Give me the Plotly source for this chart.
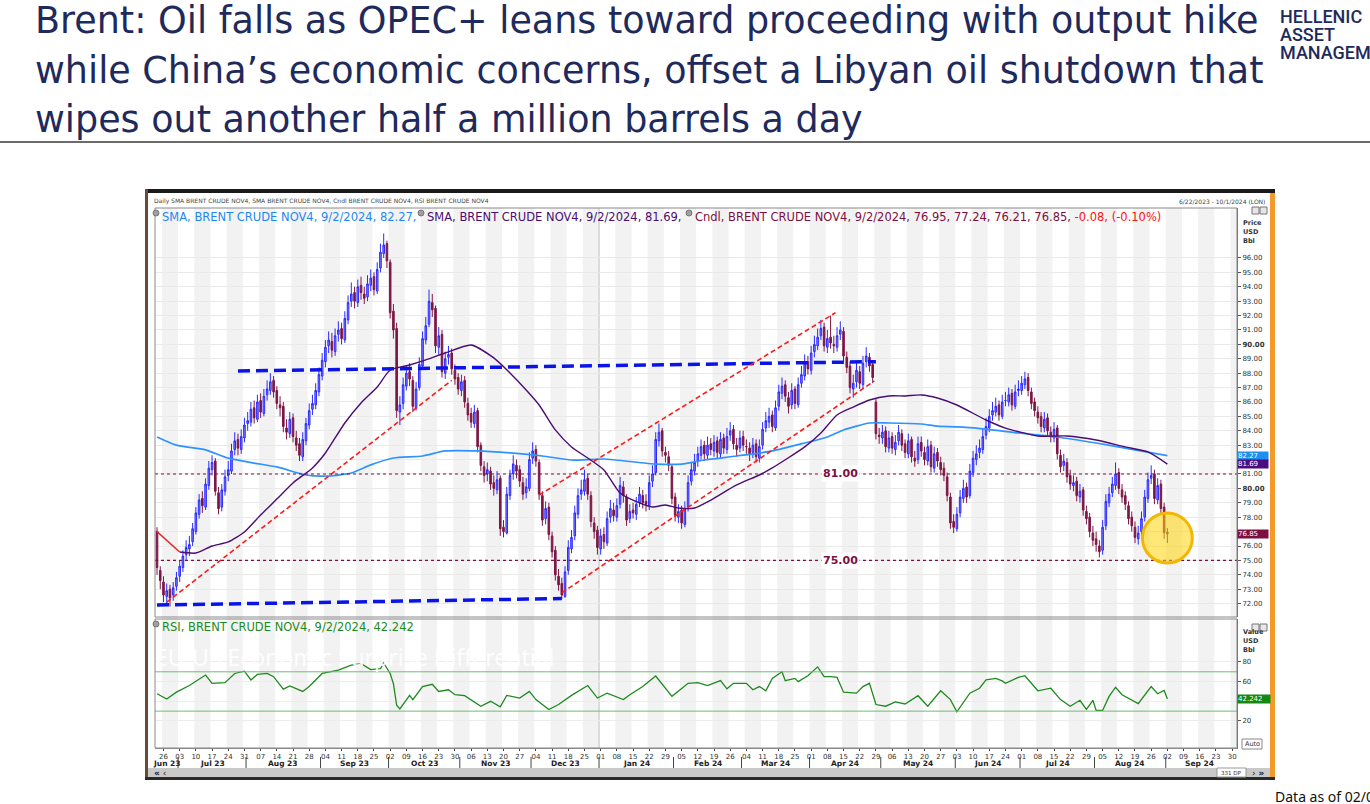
import plotly.graph_objects as go
import pandas as pd

W, H = 1370, 804


def px(x):
    return x / W


def py(y):
    return 1 - y / H


# ---------------- data ----------------
# daily OHLC, 22 Jun 2023 .. 2 Sep 2024 (business days)
open_ = [
    77.0, 74.3,
    73.5, 72.5, 73.0, 72.6, 73.2,
    73.9, 74.5, 75.4, 75.8, 76.3,
    77.0, 78.2, 79.3, 78.7, 80.2,
    81.3, 81.9, 79.7, 78.7, 79.8,
    80.9, 81.2, 82.7, 83.4, 82.7,
    83.5, 84.5, 84.6, 85.6, 84.8,
    86.1, 85.2, 86.5, 86.8, 87.5,
    86.8, 85.8, 85.7, 84.2, 83.8,
    84.9, 83.5, 83.1, 82.2, 83.3,
    84.4, 85.5, 85.8, 86.7, 87.8,
    88.8, 89.9, 90.2, 89.5, 90.7,
    91.1, 90.3, 91.7, 93.0, 93.6,
    92.9, 94.1, 93.5, 93.3, 94.1,
    94.7, 93.7, 95.3, 96.3, 97.0,
    95.7, 92.3, 91.1, 85.3, 85.9,
    87.1, 88.1, 87.5, 85.6, 87.0,
    88.5, 90.3, 91.4, 92.9, 92.5,
    89.8, 90.7, 88.0, 89.1, 89.4,
    88.2, 87.7, 86.8, 87.5, 85.9,
    85.2, 84.5, 85.4, 83.0, 81.5,
    81.0, 81.2, 80.4, 79.9, 80.7,
    77.3, 76.9, 79.5, 81.0, 81.6,
    81.3, 80.4, 79.7, 80.0, 82.1,
    82.7, 81.8, 79.5, 77.9, 78.7,
    76.7, 75.7, 73.9, 73.4, 72.5,
    74.3, 75.8, 76.7, 78.2, 79.6,
    79.8, 80.7, 79.5, 77.6, 77.1,
    75.8, 76.8, 76.2, 78.0, 78.5,
    78.0, 78.9, 80.1, 79.4, 77.9,
    78.5, 78.2, 79.0, 79.5, 79.1,
    78.8, 80.5, 81.1, 83.3, 84.0,
    82.5, 82.2, 81.5, 79.4, 78.0,
    78.5, 77.5, 78.7, 80.5, 81.2,
    81.9, 82.3, 83.0, 82.3, 83.1,
    82.6, 83.3, 82.4, 83.5, 82.7,
    83.7, 84.1, 83.0, 82.8, 83.6,
    82.9, 82.8, 82.5, 83.1, 82.1,
    83.0, 84.2, 84.6, 85.1, 84.2,
    85.7, 86.6, 87.2, 86.3, 85.8,
    86.9, 85.8, 87.3, 87.8, 88.8,
    88.2, 89.5, 89.9, 90.6, 91.2,
    89.8, 90.5, 90.0, 89.8, 90.7,
    90.9, 89.1, 88.5, 86.9, 87.4,
    88.1, 87.2, 88.8, 89.1, 88.6,
    86.0, 83.7, 83.5, 84.0, 82.8,
    83.6, 82.7, 83.3, 83.8, 83.1,
    82.4, 83.4, 82.1, 82.0, 83.2,
    82.5, 81.9, 83.0, 81.4, 82.5,
    81.8, 81.4, 80.8, 79.4, 77.7,
    77.2, 78.3, 79.3, 80.1, 79.5,
    81.1, 82.0, 82.5, 82.7, 83.7,
    84.2, 85.1, 85.3, 85.8, 85.0,
    86.1, 86.0, 86.6, 85.7, 86.8,
    86.8, 87.2, 87.7, 86.7, 86.0,
    85.3, 85.0, 84.2, 84.9, 83.9,
    83.5, 84.2, 82.3, 81.6, 81.8,
    80.9, 80.2, 80.5, 79.4, 79.9,
    78.4, 78.0, 76.9, 76.5, 76.0,
    75.7, 77.4, 79.0, 79.7, 80.2,
    81.1, 79.9, 79.5, 78.8, 78.0,
    77.3, 76.5, 77.0, 78.0, 79.3,
    80.7, 81.0, 79.2, 80.3, 78.7,
    76.95,
]
high_ = [
    77.3, 74.6,
    73.9, 73.4, 73.3, 73.5, 74.2,
    75.0, 75.7, 76.4, 76.7, 77.6,
    78.7, 79.6, 79.8, 80.7, 81.9,
    82.3, 82.1, 80.1, 80.3, 81.3,
    81.9, 83.1, 83.9, 83.8, 84.1,
    84.9, 85.3, 86.0, 86.1, 86.5,
    86.6, 86.9, 87.5, 88.0, 87.8,
    87.1, 86.4, 86.0, 84.8, 85.3,
    85.2, 84.0, 83.5, 83.9, 84.9,
    85.9, 86.5, 87.3, 88.4, 89.4,
    90.3, 90.9, 90.8, 91.1, 91.6,
    91.5, 92.3, 93.4, 94.3, 94.0,
    94.5, 94.7, 94.0, 94.8, 95.2,
    95.0, 95.7, 97.0, 97.7, 97.2,
    95.9, 92.8, 91.5, 86.4, 87.7,
    88.5, 88.7, 87.8, 87.4, 89.1,
    90.9, 91.9, 93.8, 93.5, 92.7,
    91.2, 91.0, 89.5, 89.9, 89.7,
    88.6, 88.0, 87.9, 87.8, 86.3,
    85.6, 85.8, 85.6, 83.2, 81.9,
    81.8, 81.5, 80.9, 81.2, 80.9,
    77.8, 80.1, 81.3, 82.3, 82.0,
    81.6, 80.8, 80.7, 82.5, 83.2,
    83.0, 82.0, 79.8, 79.1, 79.0,
    77.0, 76.0, 74.4, 73.8, 74.6,
    76.4, 77.1, 78.8, 80.0, 80.6,
    81.3, 81.0, 79.8, 78.0, 77.4,
    77.2, 77.3, 78.4, 79.2, 79.0,
    79.3, 80.8, 80.5, 79.6, 78.9,
    79.0, 79.4, 80.1, 79.9, 79.6,
    80.9, 81.6, 83.9, 84.5, 84.2,
    82.9, 82.6, 81.7, 79.7, 78.9,
    78.8, 79.1, 80.9, 81.8, 82.4,
    82.9, 83.4, 83.3, 83.6, 83.5,
    83.7, 83.6, 83.9, 83.8, 84.2,
    84.6, 84.4, 83.5, 84.0, 84.0,
    83.4, 83.2, 83.5, 83.4, 83.4,
    84.6, 85.3, 85.6, 85.4, 86.1,
    87.2, 87.7, 87.5, 86.7, 87.3,
    87.1, 87.7, 88.5, 89.3, 89.2,
    89.9, 90.6, 91.1, 91.7, 91.5,
    91.0, 92.0, 90.6, 91.2, 91.6,
    91.2, 89.5, 88.8, 87.9, 88.7,
    88.5, 89.2, 89.8, 89.4, 88.9,
    86.2, 84.2, 84.4, 84.3, 84.0,
    83.9, 83.7, 84.4, 84.1, 83.4,
    83.8, 83.6, 82.6, 83.6, 83.6,
    82.9, 83.4, 83.3, 82.9, 82.8,
    82.2, 81.8, 81.1, 79.7, 78.2,
    78.7, 79.9, 80.6, 80.4, 81.7,
    82.6, 83.0, 83.4, 84.1, 84.9,
    85.5, 86.0, 86.3, 86.1, 86.5,
    86.7, 87.0, 86.9, 87.2, 87.5,
    87.8, 88.1, 88.0, 87.0, 86.3,
    85.7, 85.3, 85.3, 85.2, 84.3,
    84.6, 84.4, 82.7, 82.4, 82.1,
    81.3, 80.9, 80.8, 80.3, 80.1,
    78.8, 78.3, 77.4, 77.0, 76.4,
    77.8, 79.6, 80.1, 80.8, 81.8,
    81.4, 80.3, 79.8, 79.1, 78.4,
    77.7, 77.4, 78.4, 79.9, 81.1,
    81.6, 81.3, 80.7, 80.6, 79.0,
    77.24,
]
low_ = [
    74.0, 73.0,
    72.1, 71.9, 71.8, 72.2, 72.9,
    73.5, 74.2, 75.0, 75.3, 76.0,
    76.8, 77.9, 78.3, 78.5, 79.9,
    80.9, 79.5, 78.2, 78.4, 79.5,
    80.5, 81.0, 82.3, 82.3, 82.4,
    83.2, 84.0, 84.3, 84.5, 84.6,
    84.9, 85.0, 86.1, 86.5, 86.3,
    85.5, 85.0, 83.9, 83.4, 83.5,
    83.2, 82.6, 81.9, 81.9, 83.0,
    84.1, 85.1, 85.5, 86.4, 87.5,
    88.4, 89.4, 89.1, 89.2, 90.2,
    90.0, 90.1, 91.4, 92.6, 92.5,
    92.6, 93.1, 92.8, 93.0, 93.7,
    93.4, 93.5, 95.0, 96.0, 95.3,
    91.8, 90.4, 84.9, 84.4, 85.5,
    86.8, 87.1, 85.3, 85.4, 86.8,
    88.3, 90.0, 91.2, 91.9, 89.4,
    89.3, 87.7, 87.6, 88.6, 87.9,
    87.2, 86.5, 86.4, 85.6, 84.7,
    84.2, 84.2, 82.5, 81.2, 80.4,
    80.5, 79.9, 79.5, 79.6, 76.7,
    76.6, 76.8, 79.2, 80.6, 80.7,
    80.1, 79.2, 79.3, 79.8, 81.7,
    81.5, 79.2, 77.4, 77.5, 76.4,
    75.2, 73.6, 72.9, 72.3, 72.4,
    74.0, 75.5, 76.4, 77.9, 79.2,
    79.5, 79.2, 77.3, 76.5, 75.4,
    75.4, 75.8, 76.0, 77.6, 77.7,
    77.7, 78.6, 79.0, 77.4, 77.6,
    77.9, 77.8, 78.7, 78.6, 78.4,
    78.5, 80.1, 80.9, 82.9, 82.2,
    81.8, 81.2, 78.9, 77.7, 77.6,
    77.2, 77.3, 78.4, 80.2, 80.9,
    81.5, 82.0, 81.9, 82.0, 82.3,
    82.2, 82.1, 82.1, 82.4, 82.4,
    83.3, 82.7, 82.2, 82.5, 82.6,
    82.4, 81.9, 82.1, 81.8, 81.8,
    82.7, 83.9, 84.2, 83.9, 84.0,
    85.4, 86.2, 86.0, 85.2, 85.5,
    85.5, 85.6, 87.0, 87.5, 87.9,
    87.9, 89.1, 89.6, 90.3, 89.5,
    89.4, 89.7, 89.4, 89.5, 90.3,
    88.8, 88.0, 86.6, 86.3, 87.0,
    86.9, 86.9, 88.4, 88.1, 87.3,
    83.4, 83.1, 83.1, 82.5, 82.5,
    82.4, 82.3, 83.0, 82.6, 82.1,
    82.1, 81.8, 81.5, 81.7, 82.2,
    81.6, 81.6, 81.1, 81.1, 81.5,
    80.9, 80.5, 79.1, 77.2, 76.9,
    77.0, 78.0, 79.0, 79.0, 79.3,
    80.8, 81.6, 82.1, 82.4, 83.4,
    83.9, 84.7, 85.0, 84.7, 84.8,
    85.7, 85.7, 85.4, 85.5, 86.4,
    86.5, 86.9, 86.4, 85.5, 85.0,
    84.5, 83.9, 83.9, 83.6, 83.2,
    83.2, 82.0, 81.1, 81.2, 80.4,
    79.9, 79.8, 79.1, 79.0, 78.1,
    77.5, 76.6, 76.0, 75.6, 75.2,
    75.4, 77.1, 78.7, 79.4, 79.9,
    79.6, 79.0, 78.5, 77.5, 77.0,
    76.2, 76.1, 76.7, 77.7, 79.0,
    80.3, 78.9, 78.9, 78.2, 76.5,
    76.21,
]
close_ = [
    74.5, 73.6,
    72.6, 72.9, 72.4, 73.1, 73.8,
    74.6, 75.3, 75.9, 76.1, 77.2,
    78.3, 79.2, 78.8, 80.3, 81.4,
    81.8, 79.8, 78.6, 79.9, 80.8,
    81.3, 82.6, 83.3, 82.8, 83.6,
    84.4, 84.7, 85.5, 84.9, 86.0,
    85.3, 86.4, 86.9, 87.4, 86.7,
    85.9, 85.6, 84.3, 83.9, 84.8,
    83.6, 83.0, 82.3, 83.4, 84.5,
    85.4, 85.9, 86.8, 87.9, 88.9,
    89.8, 90.3, 89.6, 90.6, 91.0,
    90.4, 91.8, 92.9, 93.5, 93.0,
    94.0, 93.6, 93.2, 94.2, 94.6,
    93.8, 95.2, 96.4, 96.9, 95.8,
    92.2, 91.0, 85.4, 85.8, 87.2,
    88.0, 87.6, 85.7, 86.9, 88.6,
    90.4, 91.3, 93.0, 92.4, 89.9,
    90.6, 88.1, 89.0, 89.3, 88.3,
    87.6, 86.9, 87.4, 86.0, 85.1,
    84.6, 85.3, 82.9, 81.6, 80.9,
    81.3, 80.3, 80.0, 80.6, 77.2,
    77.0, 79.6, 80.9, 81.7, 81.2,
    80.5, 79.6, 80.1, 82.0, 82.6,
    81.9, 79.6, 77.8, 78.6, 76.8,
    75.6, 74.0, 73.3, 72.6, 74.2,
    75.9, 76.6, 78.3, 79.5, 79.9,
    80.6, 79.6, 77.7, 77.0, 75.9,
    76.7, 76.3, 77.9, 78.6, 78.1,
    78.8, 80.2, 79.5, 77.8, 78.4,
    78.3, 78.9, 79.6, 79.0, 78.9,
    80.4, 81.0, 83.4, 83.9, 82.6,
    82.3, 81.6, 79.3, 78.1, 78.4,
    77.6, 78.6, 80.4, 81.3, 81.8,
    82.4, 82.9, 82.4, 83.0, 82.7,
    83.2, 82.5, 83.4, 82.8, 83.6,
    84.0, 83.1, 82.7, 83.5, 83.0,
    82.9, 82.4, 83.0, 82.2, 82.9,
    84.1, 84.7, 85.0, 84.3, 85.6,
    86.7, 87.1, 86.4, 85.7, 86.8,
    85.9, 87.2, 87.9, 88.7, 88.3,
    89.4, 90.0, 90.5, 91.1, 89.9,
    90.4, 90.1, 89.9, 90.6, 91.0,
    89.2, 88.4, 87.0, 87.3, 88.2,
    87.3, 88.7, 89.2, 88.5, 87.7,
    83.8, 83.6, 83.9, 82.9, 83.5,
    82.8, 83.2, 83.9, 83.0, 82.5,
    83.3, 82.2, 81.9, 83.1, 82.6,
    82.0, 82.9, 81.5, 82.4, 81.9,
    81.3, 80.9, 79.5, 77.6, 77.3,
    78.2, 79.4, 80.0, 79.4, 81.2,
    82.1, 82.4, 82.8, 83.6, 84.3,
    85.0, 85.4, 85.7, 85.1, 86.0,
    86.1, 86.5, 85.8, 86.7, 86.9,
    87.3, 87.6, 86.8, 85.9, 85.4,
    84.9, 84.3, 84.8, 84.0, 83.6,
    84.1, 82.4, 81.5, 81.9, 80.8,
    80.3, 80.4, 79.5, 79.8, 78.5,
    77.9, 77.0, 76.4, 76.1, 75.6,
    77.3, 79.1, 79.6, 80.3, 81.0,
    80.0, 79.4, 78.9, 77.9, 77.4,
    76.6, 76.9, 77.9, 79.4, 80.6,
    80.9, 79.3, 80.2, 78.6, 76.93,
    76.85,
]

# moving averages: (trading-day index, value) vertices
sma_long_idx = [0, 6, 15, 22, 30, 37, 46, 53, 60, 66, 73, 82, 89, 99, 109, 119, 128, 138,
                154, 162, 169, 179, 190, 200, 207, 212, 220, 226, 236, 241, 253, 266, 278,
                290, 302, 312]
sma_long_val = [83.57, 83.0, 82.67, 82.1, 81.76, 81.49, 80.93, 80.86, 81.07, 81.63, 82.11,
                82.25, 82.6, 82.6, 82.46, 82.25, 81.97, 82.04, 81.69, 81.69, 81.97, 82.25,
                82.6, 83.15, 83.57, 84.06, 84.54, 84.54, 84.47, 84.33, 84.19, 83.85, 83.57,
                83.15, 82.67, 82.27]
sma_short_idx = [7, 12, 17, 22, 27, 32, 37, 42, 48, 52, 58, 63, 68, 72, 78, 83, 89, 97, 104,
                 109, 114, 118, 123, 128, 133, 138, 143, 149, 153, 157, 161, 166, 171, 179,
                 186, 190, 200, 205, 210, 215, 220, 226, 231, 236, 241, 247, 256, 262, 272,
                 281, 290, 299, 306, 312]
sma_short_val = [75.58, 75.51, 76.0, 76.28, 76.97, 78.15, 79.26, 80.38, 81.42, 82.46, 84.54,
                 85.93, 87.04, 88.22, 88.57, 88.92, 89.4, 89.96, 89.06, 88.01, 86.83, 85.79,
                 84.06, 82.88, 82.11, 81.28, 79.68, 78.99, 78.71, 78.85, 78.64, 78.64, 79.19,
                 80.24, 80.93, 81.42, 82.88, 83.85, 85.1, 85.65, 86.14, 86.42, 86.42, 86.49,
                 86.28, 85.79, 84.75, 84.19, 83.64, 83.64, 83.36, 82.88, 82.53, 81.69]
start_seg_idx = [0, 7]
start_seg_val = [77.0, 75.58]

# RSI vertices
rsi_idx = [0, 3, 6, 10, 15, 17, 21, 24, 27, 29, 31, 34, 36, 39, 41, 45, 47, 51, 56, 60, 63,
           66, 69, 70, 72, 73, 74, 75, 78, 79, 82, 85, 87, 90, 92, 95, 100, 103, 106, 108,
           112, 115, 117, 121, 124, 128, 133, 136, 139, 144, 146, 150, 154, 159, 164, 167,
           170, 174, 176, 178, 182, 184, 186, 188, 190, 193, 194, 197, 198, 201, 204, 206,
           208, 210, 212, 216, 218, 220, 222, 225, 228, 231, 235, 238, 242, 245, 247, 251,
           254, 256, 259, 261, 262, 266, 268, 272, 276, 279, 282, 285, 287, 289, 290, 292,
           294, 296, 298, 301, 303, 307, 309, 311, 312]
rsi_val = [47.7, 42.3, 49.3, 56, 66.7, 58.3, 59, 68.3, 70.7, 61.7, 67.3, 68.3, 65, 52.3,
           55.7, 50, 55, 68.3, 71.7, 76.7, 78.3, 72.3, 73.3, 79, 68.3, 58, 36, 32.3, 46,
           41.7, 55, 57.3, 50, 51.7, 46.7, 45.7, 35, 40, 34.3, 46, 43.3, 50, 41.7, 31.7,
           36.7, 46, 56, 43.3, 48.3, 41.7, 46.7, 55, 65.7, 45, 58.3, 59, 56, 61, 52.7,
           58.3, 58.3, 51.7, 55, 50.7, 63.3, 70, 61, 63.3, 60, 66, 75, 65, 65, 64.3, 49.3,
           48.3, 55, 58.3, 36.7, 35, 39.3, 37.3, 45.7, 35, 50.7, 41.7, 29.3, 48.3, 53.3,
           61.7, 63.3, 60.7, 58.3, 64.3, 66, 50.7, 53.3, 41.7, 35, 41, 31.7, 41, 30.7,
           30.7, 45, 54.3, 46.7, 41.7, 37.7, 55, 47.7, 51, 42.242]

# analyst trend lines: (start idx, start price, end idx, end price)
blue_lines = [(25, 88.15, 222, 88.8), (0, 71.9, 125, 72.35)]
red_lines = [(3, 72.1, 91, 87.5), (118, 79.54, 209.5, 92.2), (125, 72.74, 221.5, 87.46)]
levels = [81.0, 75.0]
rsi_bands = [70, 30]
price_ticks = list(range(72, 97))
hidden_price_ticks = [77, 82]     # covered by value boxes in the reference
rsi_ticks = [20, 40, 60, 80]
hidden_rsi_ticks = [40]

title_lines = [
    "Brent: Oil falls as OPEC+ leans toward proceeding with output hike",
    "while China’s economic concerns, offset a Libyan oil shutdown that",
    "wipes out another half a million barrels a day",
]

# ---------------- checks / derived ----------------
N = len(close_)
assert len(open_) == N and len(high_) == N and len(low_) == N, (len(open_), len(high_), len(low_), N)
assert len(sma_long_idx) == len(sma_long_val)
assert len(sma_short_idx) == len(sma_short_val)
assert len(rsi_idx) == len(rsi_val), (len(rsi_idx), len(rsi_val))

calendar = pd.bdate_range("2023-06-22", "2024-10-01")
x_idx = list(range(N))

X_RANGE = [-0.62, 333.5]
P_RANGE = [71.07, 99.47]
R_RANGE = [-7.5, 123.7]
PLOT_L, PLOT_R = 155, 1237
P_TOP, P_BOT = 208, 617
R_TOP, R_BOT = 619, 748

FONT = "DejaVu Sans"
MAROON = "#7b1040"
BLUE_SMA = "#2f93ff"
PURPLE = "#4b0c73"
GREEN = "#1e8a1e"

fig = go.Figure()

fig.add_trace(go.Candlestick(
    x=x_idx, open=open_, high=high_, low=low_, close=close_,
    increasing=dict(line=dict(color="#2b2bff", width=1), fillcolor="#8080ff"),
    decreasing=dict(line=dict(color="#7d1745", width=1), fillcolor="#7d1745"),
    whiskerwidth=0, showlegend=False, hoverinfo="skip", xaxis="x", yaxis="y"))

fig.add_trace(go.Scatter(x=sma_long_idx, y=sma_long_val, mode="lines",
                         line=dict(color=BLUE_SMA, width=1.7, shape="spline", smoothing=0.6),
                         showlegend=False, hoverinfo="skip", xaxis="x", yaxis="y"))
fig.add_trace(go.Scatter(x=sma_short_idx, y=sma_short_val, mode="lines",
                         line=dict(color=PURPLE, width=1.4, shape="spline", smoothing=0.6),
                         showlegend=False, hoverinfo="skip", xaxis="x", yaxis="y"))
fig.add_trace(go.Scatter(x=start_seg_idx, y=start_seg_val, mode="lines",
                         line=dict(color="#e8262b", width=1.5),
                         showlegend=False, hoverinfo="skip", xaxis="x", yaxis="y"))

for (a, b, c, d) in blue_lines:
    fig.add_trace(go.Scatter(x=[a, c], y=[b, d], mode="lines",
                             line=dict(color="#0a14e6", width=3.5, dash="12px,6px"),
                             showlegend=False, hoverinfo="skip", xaxis="x", yaxis="y"))
for (a, b, c, d) in red_lines:
    fig.add_trace(go.Scatter(x=[a, c], y=[b, d], mode="lines",
                             line=dict(color="#ff1a1a", width=1.6, dash="5px,3px"),
                             showlegend=False, hoverinfo="skip", xaxis="x", yaxis="y"))

fig.add_trace(go.Scatter(x=rsi_idx, y=rsi_val, mode="lines",
                         line=dict(color=GREEN, width=1.3),
                         showlegend=False, hoverinfo="skip", xaxis="x2", yaxis="y2"))

# ---------------- calendar helpers ----------------
mondays = [i for i, d in enumerate(calendar) if d.weekday() == 0]
tick_idx = [i for i in mondays if X_RANGE[0] <= i <= X_RANGE[1]]
tick_txt = [calendar[i].strftime("%d") for i in tick_idx]

shapes = []
annotations = []

# alternating week stripes
for k, m in enumerate(mondays):
    if k % 2 == 0:
        x0 = m - 0.5
        x1 = min(m + 4.5, X_RANGE[1])
        if x0 < X_RANGE[1]:
            shapes.append(dict(type="rect", xref="x", yref="paper", x0=x0, x1=x1,
                               y0=py(R_BOT), y1=py(P_TOP), fillcolor="#f2f2f2",
                               line=dict(width=0), layer="below"))
# year separator
jan_idx = next(i for i, d in enumerate(calendar) if d.year == 2024)
shapes.append(dict(type="line", xref="x", yref="paper", x0=jan_idx - 0.5, x1=jan_idx - 0.5,
                   y0=py(R_BOT), y1=py(P_TOP), line=dict(color="#d2d2d2", width=1.5),
                   layer="below"))

# month labels and separators
months = {}
for i, d in enumerate(calendar):
    months.setdefault((d.year, d.month), []).append(i)
for (yy, mm), idxs in months.items():
    lo = max(idxs[0] - 0.5, X_RANGE[0])
    hi = min(idxs[-1] + 0.5, X_RANGE[1])
    if hi <= lo + 2:
        continue
    annotations.append(dict(x=(lo + hi) / 2, y=py(763), xref="x2", yref="paper",
                            text="<b>" + calendar[idxs[0]].strftime("%b %y") + "</b>",
                            showarrow=False, font=dict(size=7.5, color="#222", family=FONT),
                            xanchor="center", yanchor="middle"))
    if idxs[0] > 0 and idxs[0] - 0.5 < X_RANGE[1]:
        shapes.append(dict(type="line", xref="x2", yref="paper", x0=idxs[0] - 0.5,
                           x1=idxs[0] - 0.5, y0=py(757), y1=py(768),
                           line=dict(color="#444", width=1)))

# reference levels
for lv in levels:
    shapes.append(dict(type="line", xref="x domain", yref="y", x0=0, x1=1, y0=lv, y1=lv,
                       line=dict(color=MAROON, width=1.2, dash="dot")))
    annotations.append(dict(x=211, y=lv, xref="x", yref="y", text="<b>%.2f</b>" % lv,
                            showarrow=False, font=dict(size=11, color=MAROON, family=FONT),
                            bgcolor="white", xanchor="center", yanchor="middle"))
for b in rsi_bands:
    shapes.append(dict(type="line", xref="x2 domain", yref="y2", x0=0, x1=1, y0=b, y1=b,
                       line=dict(color="#6cbf6c", width=1)))

# highlight circle on last candle
cx, cy = N - 1, 76.56
shapes.append(dict(type="circle", xref="x", yref="y", x0=cx - 7.7, x1=cx + 7.7,
                   y0=cy - 1.74, y1=cy + 1.74, fillcolor="rgba(255,214,10,0.55)",
                   line=dict(color="#f2b705", width=3)))

# panel borders
for (t, b) in [(P_TOP, P_BOT), (R_TOP, R_BOT)]:
    shapes.append(dict(type="rect", xref="paper", yref="paper", x0=px(PLOT_L), x1=px(PLOT_R),
                       y0=py(b), y1=py(t), line=dict(color="#8a8a8a", width=1)))

# outer frame of the screenshot
frame = [
    (145, 189, 1275, 193, "#1a1a1a"),
    (145, 189, 148, 780, "#6b4a35"),
    (1270, 193, 1275, 780, "#f39a2b"),
    (145, 777, 1275, 780, "#2a2a2a"),
    (148, 768, 1270, 777, "#c9c9c9"),
]
for (x0, y0, x1, y1, c) in frame:
    shapes.append(dict(type="rect", xref="paper", yref="paper", x0=px(x0), x1=px(x1),
                       y0=py(y1), y1=py(y0), fillcolor=c, line=dict(width=0)))
# title rule
shapes.append(dict(type="line", xref="paper", yref="paper", x0=0, x1=1, y0=py(142), y1=py(142),
                   line=dict(color="#3a3a3a", width=1.5)))
# small window icons
for yy in [210.5, 627.5]:
    for xx in [1252, 1260]:
        shapes.append(dict(type="rect", xref="paper", yref="paper", x0=px(xx), x1=px(xx + 7),
                           y0=py(yy + 3.5), y1=py(yy - 3.5), fillcolor="#e6e6e6",
                           line=dict(color="#777", width=1)))
# legend bullet icons
for xx, yy in [(156, 213), (421, 213), (689, 213), (156, 624)]:
    shapes.append(dict(type="circle", xref="paper", yref="paper", x0=px(xx - 3), x1=px(xx + 3),
                       y0=py(yy + 3), y1=py(yy - 3), fillcolor="#a0a0a0",
                       line=dict(color="#666", width=0.8)))
# 331 DP box and Auto box
shapes.append(dict(type="rect", xref="paper", yref="paper", x0=px(1217), x1=px(1246),
                   y0=py(777), y1=py(768), fillcolor="white", line=dict(color="#999", width=1)))
shapes.append(dict(type="rect", xref="paper", yref="paper", x0=px(1242), x1=px(1262),
                   y0=py(749), y1=py(739), fillcolor="white", line=dict(color="#888", width=1)))


def ann(x, y, text, size, color, xanchor="left", family=FONT, **kw):
    return dict(x=px(x), y=py(y), xref="paper", yref="paper", text=text, showarrow=False,
                xanchor=xanchor, yanchor="middle", font=dict(size=size, color=color, family=family),
                **kw)


# title
for k, line in enumerate(title_lines):
    annotations.append(ann(33, 20 + 50 * k, line, 36.5, "#1f2a5c", family="DejaVu Sans"))
# logo
for k, word in enumerate(["HELLENIC", "ASSET", "MANAGEMENT"]):
    annotations.append(dict(x=px(1278), y=py(16.5 + 18 * k), xref="paper", yref="paper",
                            text=word, showarrow=False, xanchor="left", yanchor="middle",
                            font=dict(size=18, color="#1f2a5c", family="Roboto", weight=500)))
annotations.append(ann(1273, 796, "Data as of 02/09/2024", 14, "#111", family="Noto Sans"))

# chart header
annotations.append(ann(152, 201, "Daily SMA BRENT CRUDE NOV4, SMA BRENT CRUDE NOV4, Cndl BRENT CRUDE NOV4, RSI BRENT CRUDE NOV4",
                       6, "#444"))
annotations.append(ann(1267, 201, "6/22/2023 - 10/1/2024 (LON)", 6, "#444", xanchor="right"))

# legend texts (values taken from the data)
date_txt = "9/2/2024"
chg = close_[-1] - close_[-2]
pct = chg / close_[-2] * 100
annotations.append(ann(160, 217, "SMA, BRENT CRUDE NOV4, %s, %.2f," % (date_txt, sma_long_val[-1]),
                       11.5, "#1e88f0"))
annotations.append(ann(425, 217, "SMA, BRENT CRUDE NOV4, %s, %.2f," % (date_txt, sma_short_val[-1]),
                       11.5, PURPLE))
annotations.append(ann(693, 217,
                       "Cndl, BRENT CRUDE NOV4, %s, %.2f, %.2f, %.2f, %.2f, " % (
                           date_txt, open_[-1], high_[-1], low_[-1], close_[-1])
                       + "<span style='color:#ff1010'>%.2f, (%.2f%%)</span>" % (chg, pct),
                       11.5, MAROON))
annotations.append(ann(160, 627, "RSI, BRENT CRUDE NOV4, %s, %.3f" % (date_txt, rsi_val[-1]),
                       11.5, GREEN))
# ghost overlay text in RSI panel
annotations.append(ann(153, 657, "EU-US Economic Surprise Differential", 23, "rgba(255,255,255,0.92)",
                       family="Noto Sans"))

# right-axis captions
for k, w in enumerate(["Price", "USD", "Bbl"]):
    annotations.append(ann(1241, 223 + 9 * k, "<b>" + w + "</b>", 6.5, "#333"))
for k, w in enumerate(["Value", "USD", "Bbl"]):
    annotations.append(ann(1241, 632 + 9 * k, "<b>" + w + "</b>", 6.5, "#333"))
annotations.append(ann(1252, 744, "Auto", 6.5, "#333", xanchor="center"))

# value boxes on right axis
for val, col in [(sma_long_val[-1], "#1e8ff0"), (sma_short_val[-1], "#4b0c80"), (close_[-1], "#7d1040")]:
    annotations.append(dict(x=px(PLOT_R), y=val, xref="paper", yref="y", text="%.2f" % val,
                            showarrow=False, xanchor="left", yanchor="middle",
                            font=dict(size=7, color="white", family=FONT), bgcolor=col,
                            width=30, align="left", borderpad=0))
annotations.append(dict(x=px(PLOT_R), y=rsi_val[-1], xref="paper", yref="y2",
                        text="%.3f" % rsi_val[-1], showarrow=False, xanchor="left",
                        yanchor="middle", font=dict(size=7, color="white", family=FONT),
                        bgcolor="#128a12", width=32, align="left", borderpad=0))

# scrollbar texts
annotations.append(ann(152, 773, "<b>«</b> ‹", 9, "#222"))
annotations.append(ann(1231, 773, "331 DP", 5.5, "#333", xanchor="center"))
annotations.append(ann(1250, 773, "› <b>»</b>", 9, "#222"))

price_text = ["" if v in hidden_price_ticks else ("<b>%.2f</b>" % v if v in (80, 90) else "%.2f" % v)
              for v in price_ticks]
rsi_text = ["" if v in hidden_rsi_ticks else str(v) for v in rsi_ticks]

fig.update_layout(
    width=W, height=H, margin=dict(l=0, r=0, t=0, b=0),
    paper_bgcolor="white", plot_bgcolor="rgba(0,0,0,0)",
    showlegend=False, shapes=shapes, annotations=annotations,
    xaxis=dict(domain=[px(PLOT_L), px(PLOT_R)], range=X_RANGE, anchor="y",
               showticklabels=False, showgrid=False, zeroline=False,
               rangeslider=dict(visible=False), ticks=""),
    yaxis=dict(domain=[py(P_BOT), py(P_TOP)], range=P_RANGE, side="right", anchor="x",
               tickvals=price_ticks, ticktext=price_text,
               tickfont=dict(size=7, color="#333", family=FONT),
               ticks="outside", ticklen=3, tickcolor="#555",
               showgrid=True, gridcolor="#e9e9e9", gridwidth=1, zeroline=False,
               showline=True, linecolor="#666"),
    xaxis2=dict(domain=[px(PLOT_L), px(PLOT_R)], range=X_RANGE, anchor="y2",
                tickvals=tick_idx, ticktext=tick_txt,
                tickfont=dict(size=7, color="#333", family=FONT),
                ticks="outside", ticklen=2, tickcolor="#444",
                showgrid=False, zeroline=False, showline=True, linecolor="#888"),
    yaxis2=dict(domain=[py(R_BOT), py(R_TOP)], range=R_RANGE, side="right", anchor="x2",
                tickvals=rsi_ticks, ticktext=rsi_text,
                tickfont=dict(size=7, color="#333", family=FONT),
                ticks="outside", ticklen=3, tickcolor="#555",
                showgrid=True, gridcolor="#ececec", zeroline=False,
                showline=True, linecolor="#666"),
)

fig.write_html("out.html")
